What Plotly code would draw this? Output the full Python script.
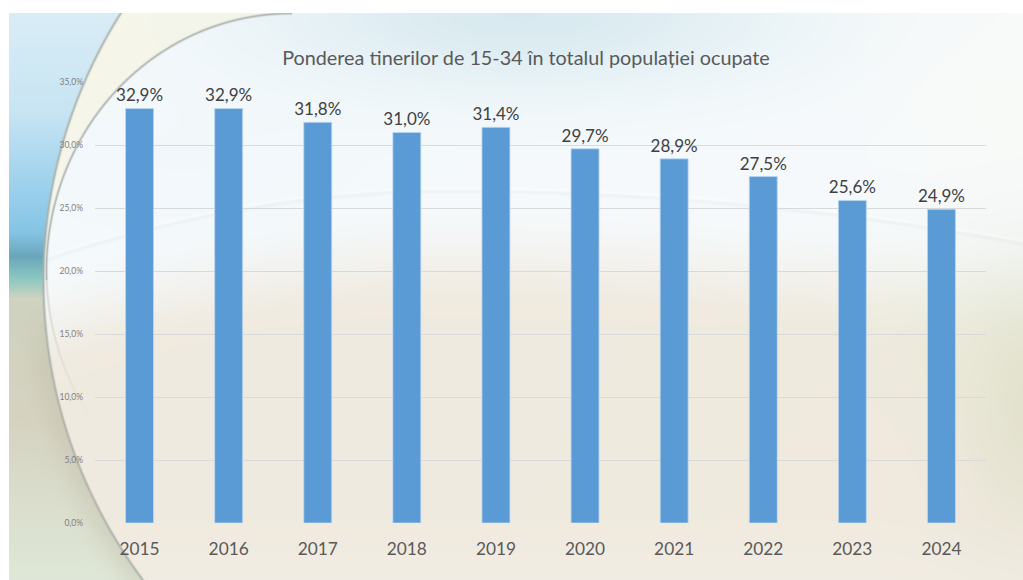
import numpy as np, zlib, struct, base64
import plotly.graph_objects as go

# ---------------- data ----------------
years = ["2015", "2016", "2017", "2018", "2019", "2020", "2021", "2022", "2023", "2024"]
share = [32.9, 32.9, 31.8, 31.0, 31.4, 29.7, 28.9, 27.5, 25.6, 24.9]
tick_vals = [0, 5, 10, 15, 20, 25, 30, 35]
tick_text = ["0,0%", "5,0%", "10,0%", "15,0%", "20,0%", "25,0%", "30,0%", "35,0%"]
title_text = "Ponderea tinerilor de 15-34 în totalul populației ocupate"
labels = [f"{v:.1f}".replace(".", ",") + "%" for v in share]

# ---------------- background picture (decoration) ----------------
W, H = 1023, 580
Y, X = np.mgrid[0:H, 0:W].astype(float)

def hexc(h):
    return np.array([int(h[i:i + 2], 16) for i in (1, 3, 5)], float)

def lerp_cols(t, c1, c2):
    t = t[..., None]
    return hexc(c1) * (1 - t) + hexc(c2) * t

img = np.zeros((H, W, 3))

def blend(alpha, color):
    global img
    a = np.clip(alpha, 0, 1)[..., None]
    img = img * (1 - a) + hexc(color) * a

# horizon curve
yh = np.where(X < 450, 188 + 4.2e-4 * (X - 450) ** 2, 188 + 1.6e-4 * (X - 450) ** 2)
t = np.clip((Y - yh - 10) / 120, 0, 1)
t = t * t * (3 - 2 * t)
img = lerp_cols(t, "#f6fafc", "#f0eadf")
blend(np.clip((Y - 520) / 80, 0, 1) * 0.5, "#f5f1ea")
blend(0.75 * np.exp(-(((X - 520) / 260) ** 2) - (((Y - 15) / 75) ** 2)), "#cfe5ec")
blend(0.5 * np.exp(-(((X - 180) / 200) ** 2) - (((Y - 160) / 90) ** 2)), "#eef6fa")
blend(0.55 * np.exp(-(((X - 1030) / 70) ** 2) - (((Y - 390) / 130) ** 2)), "#d8dabf")
blend(0.35 * np.exp(-(((X - 960) / 120) ** 2) - (((Y - 330) / 90) ** 2)), "#e8ead6")
blend(0.6 * np.exp(-(((X - 1000) / 120) ** 2) - (((Y - 100) / 110) ** 2)), "#fbfbf7")
blend(0.45 * np.exp(-((Y - yh) / 1.3) ** 2), "#ffffff")
blend(0.12 * np.exp(-((Y - yh - 3) / 2.0) ** 2), "#b9c7cf")

# outer circle (left side only)
cx, cy, R = 544.0, 280.0, 501.0
d = np.sqrt((X - cx) ** 2 + (Y - cy) ** 2)
left = X < 300
outside = (d > R) & left
# inner ellipse
ex, ey, rx, ry = 290.0, 270.0, 244.0, 257.0
e = np.sqrt(((X - ex) / rx) ** 2 + ((Y - ey) / ry) ** 2)

lens = (~outside) & (e > 1) & left
blend(np.where(lens, 0.75 * np.clip((290 - Y) / 120, 0, 1), 0), "#f6f5e5")

stops = [(0, "#dceef7"), (110, "#c8e5f3"), (195, "#98cfec"), (232, "#86c4e4"),
         (256, "#6aa6bb"), (278, "#8cc8c2"), (298, "#cfd3bf"), (420, "#d6d3c1"),
         (580, "#dfe8d8")]
ys = np.array([s[0] for s in stops], float)
cols = np.array([hexc(s[1]) for s in stops])
strip = np.stack([np.interp(Y[:, 0], ys, cols[:, k]) for k in range(3)], axis=1)
strip_img = np.repeat(strip[:, None, :], W, axis=1)
mask = outside.astype(float)
img = img * (1 - mask[..., None]) + strip_img * mask[..., None]
blend(np.where(outside, 0.3 * np.exp(-((d - R) / 18) ** 2) * np.clip((Y - 300) / 60, 0, 1), 0), "#bdb6a2")

blend(np.where(left, 0.85 * np.exp(-((d - R) / 1.3) ** 2), 0), "#aab0a9")
dist_in = (e - 1) * 250
vis = np.where((X < 292), 1.0, 0.0) * np.where(Y < 280, 1.0, np.clip((430 - Y) / 150, 0, 1) * 0.5)
blend(0.8 * vis * np.exp(-(dist_in / 1.2) ** 2), "#a5aca8")

img[:13, :] = 255
img[:, :9] = 255

arr = np.clip(img, 0, 255).astype(np.uint8)

def to_png(a):
    h, w, _ = a.shape
    raw = b"".join(b"\x00" + a[r].tobytes() for r in range(h))
    def chunk(tag, data):
        return struct.pack(">I", len(data)) + tag + data + struct.pack(">I", zlib.crc32(tag + data) & 0xffffffff)
    return (b"\x89PNG\r\n\x1a\n" + chunk(b"IHDR", struct.pack(">IIBBBBB", w, h, 8, 2, 0, 0, 0))
            + chunk(b"IDAT", zlib.compress(raw, 9)) + chunk(b"IEND", b""))

bg_uri = "data:image/png;base64," + base64.b64encode(to_png(arr)).decode()

# ---------------- figure ----------------
FONT = "Lato, sans-serif"
fig = go.Figure()
fig.add_trace(go.Bar(
    x=years, y=share, text=labels, textposition="outside", cliponaxis=False,
    constraintext="none",
    marker=dict(color="#5b9bd5", line=dict(color="rgba(190,215,240,0.8)", width=1)),
    textfont=dict(family=FONT, size=17, color="#404040"),
    hoverinfo="skip",
))

fig.update_layout(
    width=W, height=H,
    margin=dict(l=0, r=0, t=0, b=0, autoexpand=False),
    paper_bgcolor="white",
    plot_bgcolor="rgba(0,0,0,0)",
    showlegend=False,
    bargap=0.686,
    title=dict(text=title_text, x=526 / W, xanchor="center", y=1 - 58 / H, yanchor="middle",
               font=dict(family=FONT, size=19.8, color="#595959")),
    xaxis=dict(domain=[95 / W, 986 / W], showgrid=False, showline=False, ticks="", automargin=False,
               tickfont=dict(family=FONT, size=17.3, color="#595959"), ticklabelstandoff=14),
    yaxis=dict(domain=[1 - 523 / H, 1 - 82 / H], range=[0, 35], tickvals=tick_vals, ticktext=tick_text,
               showgrid=True, gridcolor="#d9d9d9", gridwidth=1, zeroline=False, showline=False,
               automargin=False, ticks="", tickfont=dict(family=FONT, size=8.5, color="#7f7f7f"),
               ticklabelstandoff=11),
    images=[dict(source=bg_uri, xref="paper", yref="paper", x=0, y=1, sizex=1, sizey=1,
                 xanchor="left", yanchor="top", sizing="stretch", layer="below")],
)

fig.write_html("out.html", config={"displayModeBar": False},
               post_script="document.body.style.margin='0';document.body.style.overflow='hidden';")
